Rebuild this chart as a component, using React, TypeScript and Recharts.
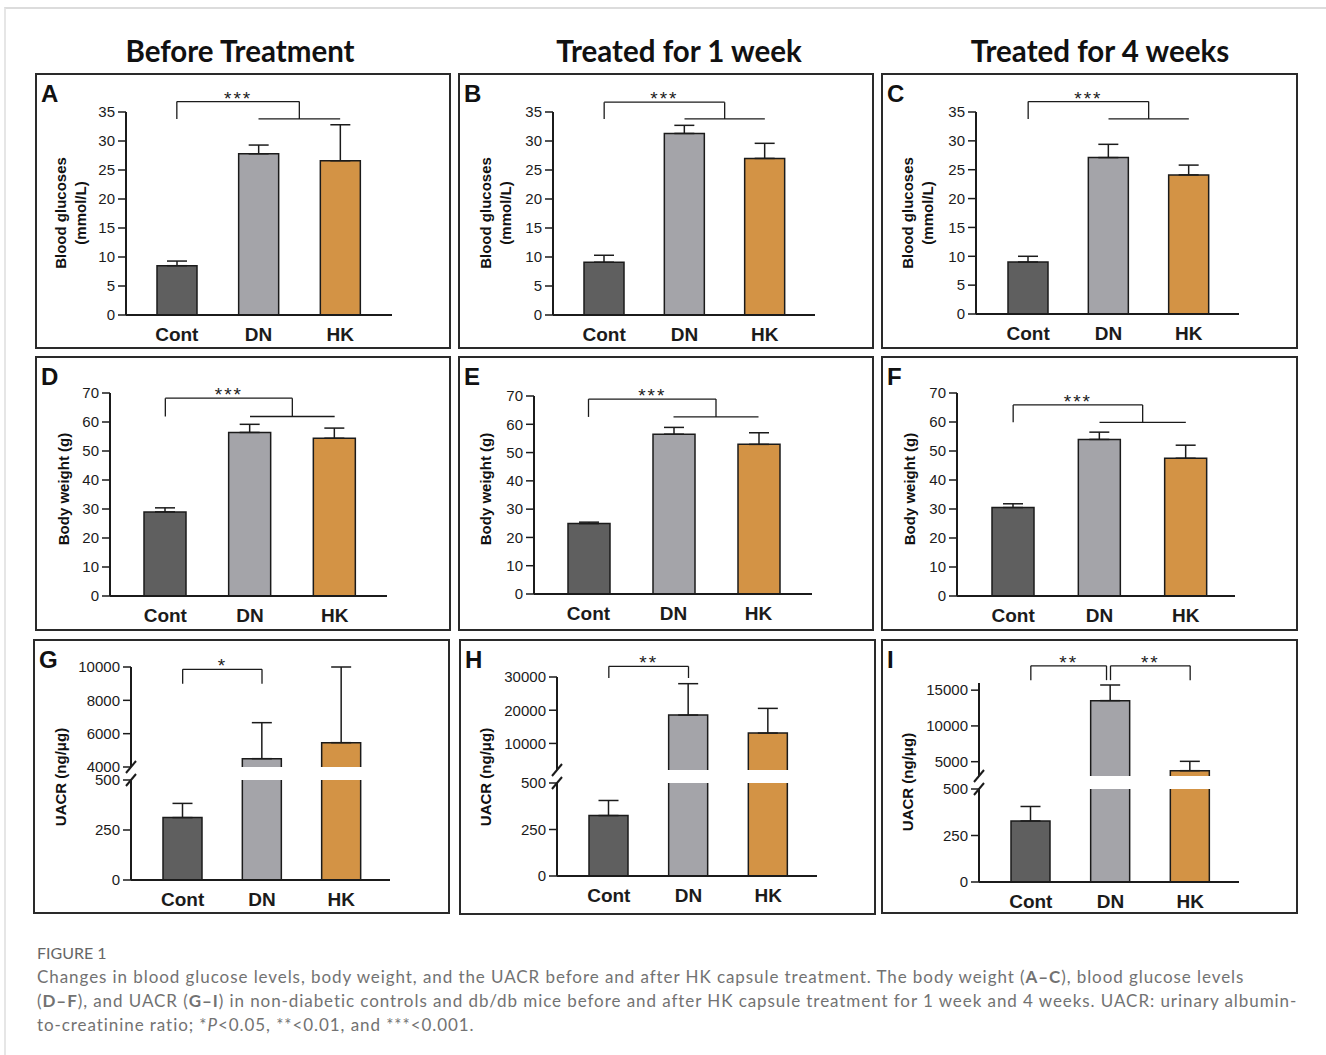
import React from 'react';
import {
  BarChart,
  Bar,
  XAxis,
  YAxis,
  ErrorBar,
  Cell,
  ReferenceLine,
  ReferenceDot,
} from 'recharts';

// ---- data ----
const GROUPS = ['Cont', 'DN', 'HK'];

// blood glucose (mmol/L), mean and upper SD
const GLU_BEFORE = [8.5, 27.8, 26.6];
const GLU_BEFORE_SD = [0.8, 1.5, 6.2];
const GLU_1W = [9.1, 31.3, 27.0];
const GLU_1W_SD = [1.2, 1.4, 2.6];
const GLU_4W = [9.0, 27.1, 24.1];
const GLU_4W_SD = [1.0, 2.3, 1.7];
const GLU_TICKS = [0, 5, 10, 15, 20, 25, 30, 35];

// body weight (g)
const BW_BEFORE = [29.0, 56.4, 54.4];
const BW_BEFORE_SD = [1.4, 2.8, 3.5];
const BW_1W = [24.9, 56.5, 52.9];
const BW_1W_SD = [0.5, 2.4, 4.1];
const BW_4W = [30.5, 54.0, 47.5];
const BW_4W_SD = [1.3, 2.5, 4.5];
const BW_TICKS = [0, 10, 20, 30, 40, 50, 60, 70];

// UACR (ng/μg), broken axis
const UACR_BEFORE = [312, 4500, 5460];
const UACR_BEFORE_SD = [71, 2160, 4540];
const UACR_1W = [325, 18540, 13115];
const UACR_1W_SD = [81, 9450, 7435];
const UACR_4W = [328, 13535, 3744];
const UACR_4W_SD = [78, 2185, 1306];
const UACR_LOW_TICKS = [0, 250, 500];
const UACR_BEFORE_TICKS = [4000, 6000, 8000, 10000];
const UACR_1W_TICKS = [10000, 20000, 30000];
const UACR_4W_TICKS = [5000, 10000, 15000];
const UACR_BEFORE_DOMAIN = [4000, 10000];
const UACR_1W_DOMAIN = [2000, 30000];
const UACR_4W_DOMAIN = [3000, 16000];

// significance brackets: x in category index units (0 = Cont, 1 = DN, 2 = HK)
type Bracket = { x1: number; x2: number; top: number; leg: number; text: string; span?: [number, number] };
const SIG_A: Bracket[] = [{ x1: 0, x2: 1.5, top: 36.8, leg: 33.8, text: '***', span: [1, 2] }];
const SIG_B: Bracket[] = [{ x1: 0, x2: 1.5, top: 36.7, leg: 33.8, text: '***', span: [1, 2] }];
const SIG_C: Bracket[] = [{ x1: 0, x2: 1.5, top: 36.8, leg: 33.8, text: '***', span: [1, 2] }];
const SIG_D: Bracket[] = [{ x1: 0, x2: 1.5, top: 68.2, leg: 61.9, text: '***', span: [1, 2] }];
const SIG_E: Bracket[] = [{ x1: 0, x2: 1.5, top: 68.9, leg: 62.6, text: '***', span: [1, 2] }];
const SIG_F: Bracket[] = [{ x1: 0, x2: 1.5, top: 65.9, leg: 59.9, text: '***', span: [1, 2] }];
const SIG_G: Bracket[] = [{ x1: 0, x2: 1, top: 9860, leg: 9000, text: '*' }];
const SIG_H: Bracket[] = [{ x1: 0, x2: 1, top: 33200, leg: 29700, text: '**' }];
const SIG_I: Bracket[] = [
  { x1: 0, x2: 0.95, top: 18400, leg: 16400, text: '**' },
  { x1: 1.0, x2: 2, top: 18400, leg: 16400, text: '**' },
];

// ---- style ----
const FONT = '"Liberation Sans", Arial, Helvetica, sans-serif';
const INK = '#1b1b1b';
const FILLS = ['#5f5f5f', '#a4a4a9', '#d39345'];
const YW = 50;
const XH = 32;

type Box = { x: number; y: number; w: number; h: number };
type Geo = {
  box: Box;
  left: number;
  right: number;
  top: number;
  bottom: number;
  pad: { left: number; right: number };
  barSize: number;
  upperBottom?: number;
  lowerTop?: number;
  upperPad?: number;
};

const rows = (v: number[], sd: number[]) =>
  GROUPS.map((name, i) => ({ name, value: v[i], err: [0, sd[i]] }));

// padding for the hidden index axis so that 0 and 2 fall on the first / last band centre
function indexPad(geo: Geo) {
  const band = (geo.right - geo.left - geo.pad.left - geo.pad.right) / GROUPS.length;
  return { left: geo.pad.left + band / 2, right: geo.pad.right + band / 2 };
}

function brackets(list: Bracket[]) {
  const line = { stroke: INK, strokeWidth: 1.3, xAxisId: 'n', ifOverflow: 'visible' as const };
  return list.flatMap((b, k) => {
    const els = [
      <ReferenceLine key={`a${k}`} {...line} segment={[{ x: b.x1, y: b.leg }, { x: b.x1, y: b.top }]} />,
      <ReferenceLine key={`b${k}`} {...line} segment={[{ x: b.x1, y: b.top }, { x: b.x2, y: b.top }]} />,
      <ReferenceLine key={`c${k}`} {...line} segment={[{ x: b.x2, y: b.top }, { x: b.x2, y: b.leg }]} />,
    ];
    if (b.span) {
      els.push(
        <ReferenceLine key={`d${k}`} {...line} segment={[{ x: b.span[0], y: b.leg }, { x: b.span[1], y: b.leg }]} />,
      );
    }
    els.push(
      <ReferenceDot
        key={`s${k}`}
        xAxisId="n"
        x={(b.x1 + b.x2) / 2}
        y={b.top}
        r={0}
        fill="none"
        stroke="none"
        ifOverflow="visible"
        label={{ value: b.text, position: 'top', offset: -3, fill: INK, fontSize: 19, letterSpacing: 2 }}
      />,
    );
    return els;
  });
}

function bars(size: number, ranged = false) {
  return (
    <Bar
      dataKey={ranged ? (d: { value: number }) => [0, d.value] : 'value'}
      barSize={size}
      stroke={INK}
      strokeWidth={1.5}
      isAnimationActive={false}
    >
      {GROUPS.map((g, i) => (
        <Cell key={g} fill={FILLS[i]} />
      ))}
      <ErrorBar dataKey="err" direction="y" width={10} stroke={INK} strokeWidth={1.5} isAnimationActive={false} />
    </Bar>
  );
}

const yAxisProps = {
  width: YW,
  tickSize: 8,
  tickMargin: 3,
  interval: 0 as const,
  allowDataOverflow: true,
  axisLine: { stroke: INK, strokeWidth: 2 },
  tickLine: { stroke: INK, strokeWidth: 1.5 },
  tick: { fontSize: 15, fill: INK },
};

const xAxisStyle = {
  height: XH,
  tickLine: false,
  tickSize: 0,
  tickMargin: 13,
  axisLine: { stroke: INK, strokeWidth: 2 },
  tick: { fontSize: 19, fontWeight: 700, fill: INK },
};

type Labels = { x: number; y: number; lines: string[] };

function PanelFrame({ geo, letter, labels, children }: {
  geo: Geo; letter: string; labels: Labels; children: React.ReactNode;
}) {
  const { box } = geo;
  return (
    <>
      <div
        style={{
          position: 'absolute', left: box.x, top: box.y, width: box.w, height: box.h,
          border: '2px solid #2a2a2a', boxSizing: 'border-box',
        }}
      />
      <svg style={{ position: 'absolute', left: box.x, top: box.y }} width={box.w} height={box.h}>
        <text x={6} y={29} fontSize={24} fontWeight={700} fill="#111">{letter}</text>
        {labels.lines.map((t, i) => (
          <text
            key={t}
            transform={`translate(${labels.x + i * 20},${labels.y}) rotate(-90)`}
            textAnchor="middle"
            dominantBaseline="central"
            fontSize={15}
            fontWeight={700}
            fill="#111"
          >
            {t}
          </text>
        ))}
        {geo.upperBottom !== undefined && geo.lowerTop !== undefined &&
          [geo.upperBottom, geo.lowerTop].map((yy) => (
            <line
              key={yy}
              x1={geo.left - box.x - 5}
              y1={yy - box.y + 6}
              x2={geo.left - box.x + 5}
              y2={yy - box.y - 6}
              stroke={INK}
              strokeWidth={2}
            />
          ))}
      </svg>
      {children}
    </>
  );
}

function SimplePanel({ geo, letter, labels, v, sd, ticks, sig }: {
  geo: Geo; letter: string; labels: Labels;
  v: number[]; sd: number[]; ticks: number[]; sig: Bracket[];
}) {
  const { box } = geo;
  const margin = {
    top: geo.top - box.y,
    left: geo.left - box.x - YW,
    right: box.x + box.w - geo.right,
    bottom: box.y + box.h - geo.bottom - XH,
  };
  return (
    <PanelFrame geo={geo} letter={letter} labels={labels}>
      <div style={{ position: 'absolute', left: box.x, top: box.y }}>
        <BarChart width={box.w} height={box.h} data={rows(v, sd)} margin={margin}>
          <XAxis dataKey="name" padding={geo.pad} {...xAxisStyle} />
          <XAxis xAxisId="n" type="number" domain={[0, GROUPS.length - 1]} allowDataOverflow hide padding={indexPad(geo)} />
          <YAxis {...yAxisProps} domain={[ticks[0], ticks[ticks.length - 1]]} ticks={ticks} />
          {bars(geo.barSize)}
          {brackets(sig)}
        </BarChart>
      </div>
    </PanelFrame>
  );
}

function BrokenPanel({ geo, letter, labels, v, sd, highTicks, highDomain, sig }: {
  geo: Geo; letter: string; labels: Labels;
  v: number[]; sd: number[]; highTicks: number[]; highDomain: number[]; sig: Bracket[];
}) {
  const { box } = geo;
  const data = rows(v, sd);
  const upPad = geo.upperPad ?? 9;
  const upperH = (geo.upperBottom as number) + upPad - box.y;
  const lowerY = (geo.lowerTop as number) - 14;
  const lowerH = box.y + box.h - lowerY;
  const side = { left: geo.left - box.x - YW, right: box.x + box.w - geo.right };
  return (
    <PanelFrame geo={geo} letter={letter} labels={labels}>
      <div style={{ position: 'absolute', left: box.x, top: box.y }}>
        <BarChart width={box.w} height={upperH} data={data} margin={{ ...side, top: geo.top - box.y, bottom: upPad }}>
          <XAxis dataKey="name" padding={geo.pad} hide />
          <XAxis xAxisId="n" type="number" domain={[0, GROUPS.length - 1]} allowDataOverflow hide padding={indexPad(geo)} />
          <YAxis {...yAxisProps} domain={highDomain} ticks={highTicks} />
          {bars(geo.barSize, true)}
          {brackets(sig)}
        </BarChart>
      </div>
      <div style={{ position: 'absolute', left: box.x, top: lowerY }}>
        <BarChart
          width={box.w}
          height={lowerH}
          data={data}
          margin={{ ...side, top: 14, bottom: box.y + box.h - geo.bottom - XH }}
        >
          <XAxis dataKey="name" padding={geo.pad} {...xAxisStyle} />
          <YAxis {...yAxisProps} domain={[0, 500]} ticks={UACR_LOW_TICKS} />
          {bars(geo.barSize)}
        </BarChart>
      </div>
    </PanelFrame>
  );
}

// ---- layout (page pixels) ----
const GEO_A: Geo = { box: { x: 35, y: 73, w: 416, h: 276 }, left: 126, right: 392, top: 112, bottom: 315, pad: { left: 10, right: 11 }, barSize: 40 };
const GEO_B: Geo = { box: { x: 458, y: 73, w: 416, h: 276 }, left: 553, right: 815, top: 112, bottom: 315, pad: { left: 11, right: 10 }, barSize: 40 };
const GEO_C: Geo = { box: { x: 881, y: 73, w: 417, h: 276 }, left: 976, right: 1239, top: 112, bottom: 314, pad: { left: 12, right: 10 }, barSize: 40 };
const GEO_D: Geo = { box: { x: 35, y: 356, w: 416, h: 275 }, left: 110, right: 387, top: 393, bottom: 596, pad: { left: 13, right: 10 }, barSize: 42 };
const GEO_E: Geo = { box: { x: 458, y: 356, w: 416, h: 275 }, left: 534, right: 812, top: 396, bottom: 594, pad: { left: 12, right: 11 }, barSize: 42 };
const GEO_F: Geo = { box: { x: 881, y: 356, w: 417, h: 275 }, left: 957, right: 1235, top: 393, bottom: 596, pad: { left: 13, right: 6 }, barSize: 42 };
const GEO_G: Geo = { box: { x: 33, y: 639, w: 417, h: 275 }, left: 131, right: 390, top: 667, bottom: 880, upperBottom: 767, lowerTop: 780, upperPad: 9, pad: { left: 12, right: 9 }, barSize: 39 };
const GEO_H: Geo = { box: { x: 459, y: 639, w: 417, h: 276 }, left: 557, right: 817, top: 677, bottom: 876, upperBottom: 770, lowerTop: 783, upperPad: 4, pad: { left: 12, right: 9 }, barSize: 39 };
const GEO_I: Geo = { box: { x: 881, y: 639, w: 417, h: 275 }, left: 979, right: 1239, top: 683, bottom: 882, upperBottom: 776, lowerTop: 789, upperPad: 4, pad: { left: 12, right: 9 }, barSize: 39 };

const GLU_LABEL = ['Blood glucoses', '(mmol/L)'];
const BW_LABEL = ['Body weight (g)'];
const UACR_LABEL = ['UACR (ng/μg)'];

const TITLES = ['Before Treatment', 'Treated for 1 week', 'Treated for 4 weeks'];
const TITLE_X = [240, 679, 1100];

export default function App() {
  return (
    <div style={{ position: 'absolute', left: 0, top: 0, width: 1326, height: 1055, background: '#fff', fontFamily: FONT, overflow: 'hidden' }}>
      <div
        style={{
          position: 'absolute', left: 4, top: 7, width: 1330, height: 1060,
          borderTop: '2px solid #dcdcdc', borderLeft: '2px solid #e6e6e6',
        }}
      />
      <svg style={{ position: 'absolute', left: 0, top: 0 }} width={1326} height={70}>
        {TITLES.map((t, i) => (
          <text
            key={t}
            x={TITLE_X[i]}
            y={62}
            textAnchor="middle"
            fontFamily="Lato, 'Open Sans', sans-serif"
            fontWeight={700}
            fontSize={29.5}
            fill="#111"
          >
            {t}
          </text>
        ))}
      </svg>

      <SimplePanel geo={GEO_A} letter="A" labels={{ x: 25, y: 140, lines: GLU_LABEL }} v={GLU_BEFORE} sd={GLU_BEFORE_SD} ticks={GLU_TICKS} sig={SIG_A} />
      <SimplePanel geo={GEO_B} letter="B" labels={{ x: 27, y: 140, lines: GLU_LABEL }} v={GLU_1W} sd={GLU_1W_SD} ticks={GLU_TICKS} sig={SIG_B} />
      <SimplePanel geo={GEO_C} letter="C" labels={{ x: 26, y: 140, lines: GLU_LABEL }} v={GLU_4W} sd={GLU_4W_SD} ticks={GLU_TICKS} sig={SIG_C} />

      <SimplePanel geo={GEO_D} letter="D" labels={{ x: 28, y: 133, lines: BW_LABEL }} v={BW_BEFORE} sd={BW_BEFORE_SD} ticks={BW_TICKS} sig={SIG_D} />
      <SimplePanel geo={GEO_E} letter="E" labels={{ x: 27, y: 133, lines: BW_LABEL }} v={BW_1W} sd={BW_1W_SD} ticks={BW_TICKS} sig={SIG_E} />
      <SimplePanel geo={GEO_F} letter="F" labels={{ x: 28, y: 133, lines: BW_LABEL }} v={BW_4W} sd={BW_4W_SD} ticks={BW_TICKS} sig={SIG_F} />

      <BrokenPanel geo={GEO_G} letter="G" labels={{ x: 27, y: 138, lines: UACR_LABEL }} v={UACR_BEFORE} sd={UACR_BEFORE_SD} highTicks={UACR_BEFORE_TICKS} highDomain={UACR_BEFORE_DOMAIN} sig={SIG_G} />
      <BrokenPanel geo={GEO_H} letter="H" labels={{ x: 26, y: 138, lines: UACR_LABEL }} v={UACR_1W} sd={UACR_1W_SD} highTicks={UACR_1W_TICKS} highDomain={UACR_1W_DOMAIN} sig={SIG_H} />
      <BrokenPanel geo={GEO_I} letter="I" labels={{ x: 26, y: 143, lines: UACR_LABEL }} v={UACR_4W} sd={UACR_4W_SD} highTicks={UACR_4W_TICKS} highDomain={UACR_4W_DOMAIN} sig={SIG_I} />

      <div
        style={{
          position: 'absolute', left: 37, top: 941, fontFamily: 'Lato, "Noto Sans", sans-serif',
          fontSize: 17, lineHeight: '24px', color: '#727272', whiteSpace: 'nowrap', letterSpacing: 0.93,
        }}
      >
        <div style={{ color: '#666', fontSize: 16, letterSpacing: 0 }}>FIGURE 1</div>
        <div>
          Changes in blood glucose levels, body weight, and the UACR before and after HK capsule treatment. The body weight (<b>A–C</b>), blood glucose levels
        </div>
        <div>
          (<b>D–F</b>), and UACR (<b>G–I</b>) in non-diabetic controls and db/db mice before and after HK capsule treatment for 1 week and 4 weeks. UACR: urinary albumin-
        </div>
        <div>
          to-creatinine ratio; *<i>P</i>&lt;0.05, **&lt;0.01, and ***&lt;0.001.
        </div>
      </div>
    </div>
  );
}
